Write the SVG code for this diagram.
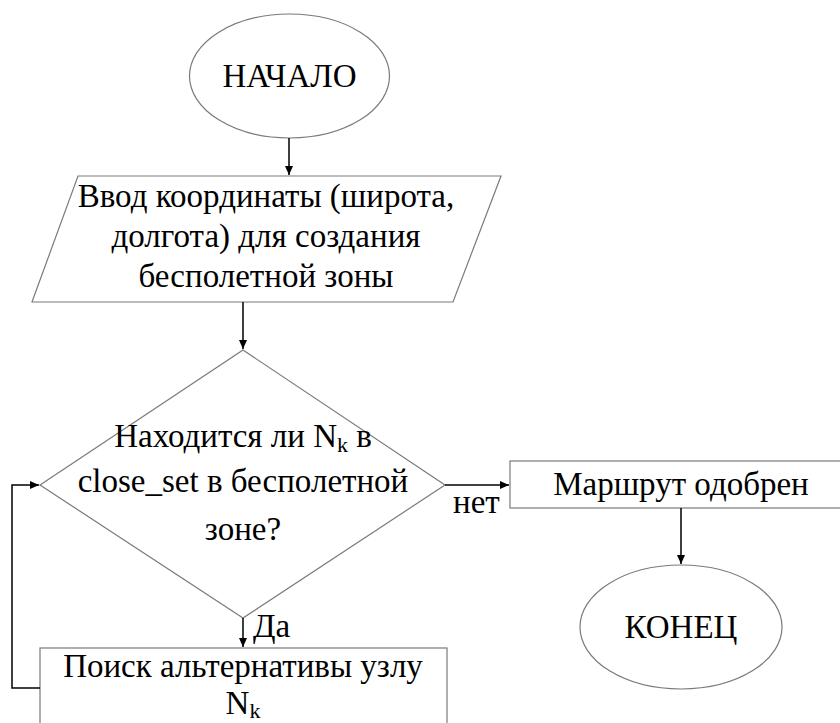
<svg xmlns="http://www.w3.org/2000/svg" width="840" height="723" viewBox="0 0 840 723">
<defs>
<marker id="arr" markerWidth="10" markerHeight="10" refX="9" refY="5" orient="auto" markerUnits="userSpaceOnUse">
<path d="M0,1 L9,5 L0,9 Z" fill="#000"/>
</marker>
<style>
.shape{fill:#fff;stroke:#7a7a7a;stroke-width:1.2}
.conn{fill:none;stroke:#000;stroke-width:1.5;marker-end:url(#arr)}
</style>
</defs>
<rect width="840" height="723" fill="#fff"/>
<g font-family="'Liberation Serif', 'Times New Roman', serif" font-size="33" fill="#000" text-anchor="middle">
<g id="start">
<ellipse class="shape" cx="289.5" cy="76" rx="100" ry="62"/>
<text x="289.5" y="87">НАЧАЛО</text>
</g>
<g id="input">
<polygon class="shape" points="78,176 501,176 453,302 32,302"/>
<text x="266" y="207">Ввод координаты (широта,</text>
<text x="266" y="247">долгота) для создания</text>
<text x="266" y="287">бесполетной зоны</text>
</g>
<g id="decision">
<polygon class="shape" points="243,350 445,485 243,618 40,485"/>
<text x="243" y="447">Находится ли N<tspan font-size="22" dy="5">k</tspan><tspan dy="-5"> в</tspan></text>
<text x="243" y="492">close_set в бесполетной</text>
<text x="243" y="540">зоне?</text>
</g>
<g id="search">
<rect class="shape" x="40" y="648" width="407" height="90"/>
<text x="243" y="677">Поиск альтернативы узлу</text>
<text x="243" y="714">N<tspan font-size="22" dy="4">k</tspan></text>
</g>
<g id="approved">
<rect class="shape" x="510" y="461" width="340" height="47"/>
<text x="681" y="495">Маршрут одобрен</text>
</g>
<g id="end">
<ellipse class="shape" cx="681" cy="627" rx="101" ry="62"/>
<text x="681" y="638">КОНЕЦ</text>
</g>
<g id="connectors">
<path class="conn" d="M289,138 L289,175"/>
<path class="conn" d="M243,302 L243,349"/>
<path class="conn" d="M445,485 L509,485"/>
<path class="conn" d="M243,618 L243,647"/>
<path class="conn" d="M681,508 L681,564"/>
<path class="conn" d="M40,688 L12,688 L12,485 L39,485"/>
<text text-anchor="start" x="253" y="637">Да</text>
<text text-anchor="start" x="453" y="513">нет</text>
</g>
</g>
</svg>
